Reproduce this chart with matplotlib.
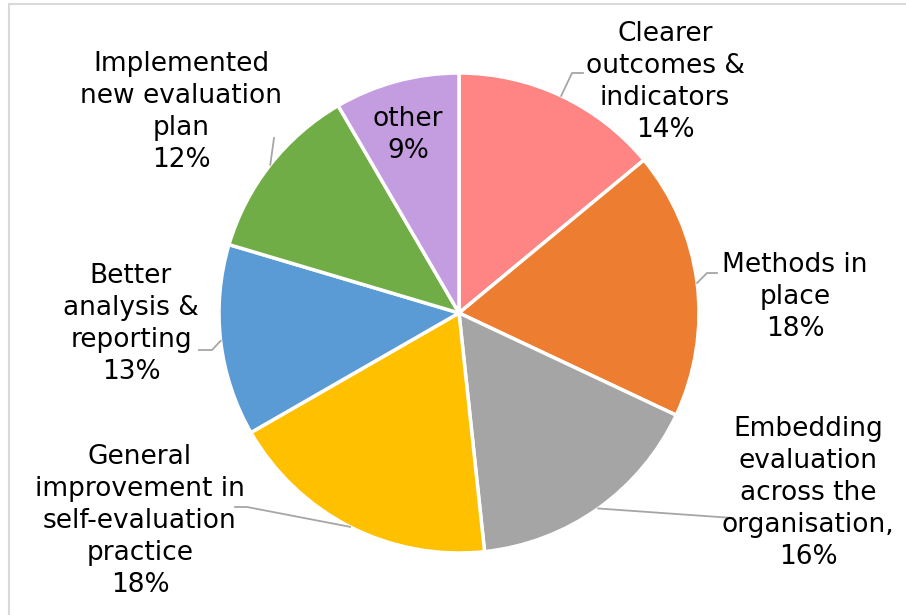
import numpy as np
import matplotlib.pyplot as plt
from matplotlib.patches import Rectangle

# slice data, clockwise from 12 o'clock (shares)
labels = ["Clearer\noutcomes &\nindicators\n14%",
          "Methods in\nplace\n18%",
          "Embedding\nevaluation\nacross the\norganisation,\n16%",
          "General\nimprovement in\nself-evaluation\npractice\n18%",
          "Better\nanalysis &\nreporting\n13%",
          "Implemented\nnew evaluation\nplan\n12%",
          "other\n9%"]
values = [14.0, 18.0, 16.3, 18.4, 12.9, 12.0, 8.4]
colors = ["#FF8585", "#ED7D31", "#A5A5A5", "#FFC000", "#5B9BD5", "#70AD47", "#C49DE0"]

# label layout in pixel coords (y from top): text centre, leader elbow, leader end
text_pos = [(665, 82), (795, 297), (808, 493), (140, 521), (131, 324), (181, 112), (408, 135)]
elbows = [(572, 73), (707, 273), None, (247, 507), (212, 350), None, None]
ends = [(583, 73), (717, 273), (733, 518), (235, 507), (199, 350), (274, 138), None]

W, H = 906, 615
cx, cy, R = 459, 313, 240

fig = plt.figure(figsize=(W / 100, H / 100), dpi=100)
ax = fig.add_axes([0, 0, 1, 1])

wedges, _ = ax.pie(values, colors=colors, startangle=90, counterclock=False,
                   center=(cx, H - cy), radius=R, frame=True,
                   wedgeprops=dict(edgecolor="white", linewidth=2.5))
ax.set_xlim(0, W)
ax.set_ylim(0, H)
ax.axis("off")

for i, lab in enumerate(labels):
    tx, ty = text_pos[i]
    ax.text(tx, H - ty, lab, ha="center", va="center", fontsize=19,
            family="DejaVu Sans", color="black", linespacing=1.31)
    if ends[i] is None:
        continue
    w = wedges[i]
    mid = np.deg2rad((w.theta1 + w.theta2) / 2)
    pts = [(cx + R * np.cos(mid), H - cy + R * np.sin(mid))]
    if elbows[i] is not None:
        pts.append((elbows[i][0], H - elbows[i][1]))
    pts.append((ends[i][0], H - ends[i][1]))
    xs, ys = zip(*pts)
    ax.plot(xs, ys, color="#A6A6A6", linewidth=1.3)

# light chart-area border
fig.patches.append(Rectangle((9 / W, -0.01), 1.0, 1 - 4 / H + 0.01, transform=fig.transFigure,
                             fill=False, edgecolor="#D9D9D9", linewidth=1.5))

fig.savefig("out.png", dpi=100)
